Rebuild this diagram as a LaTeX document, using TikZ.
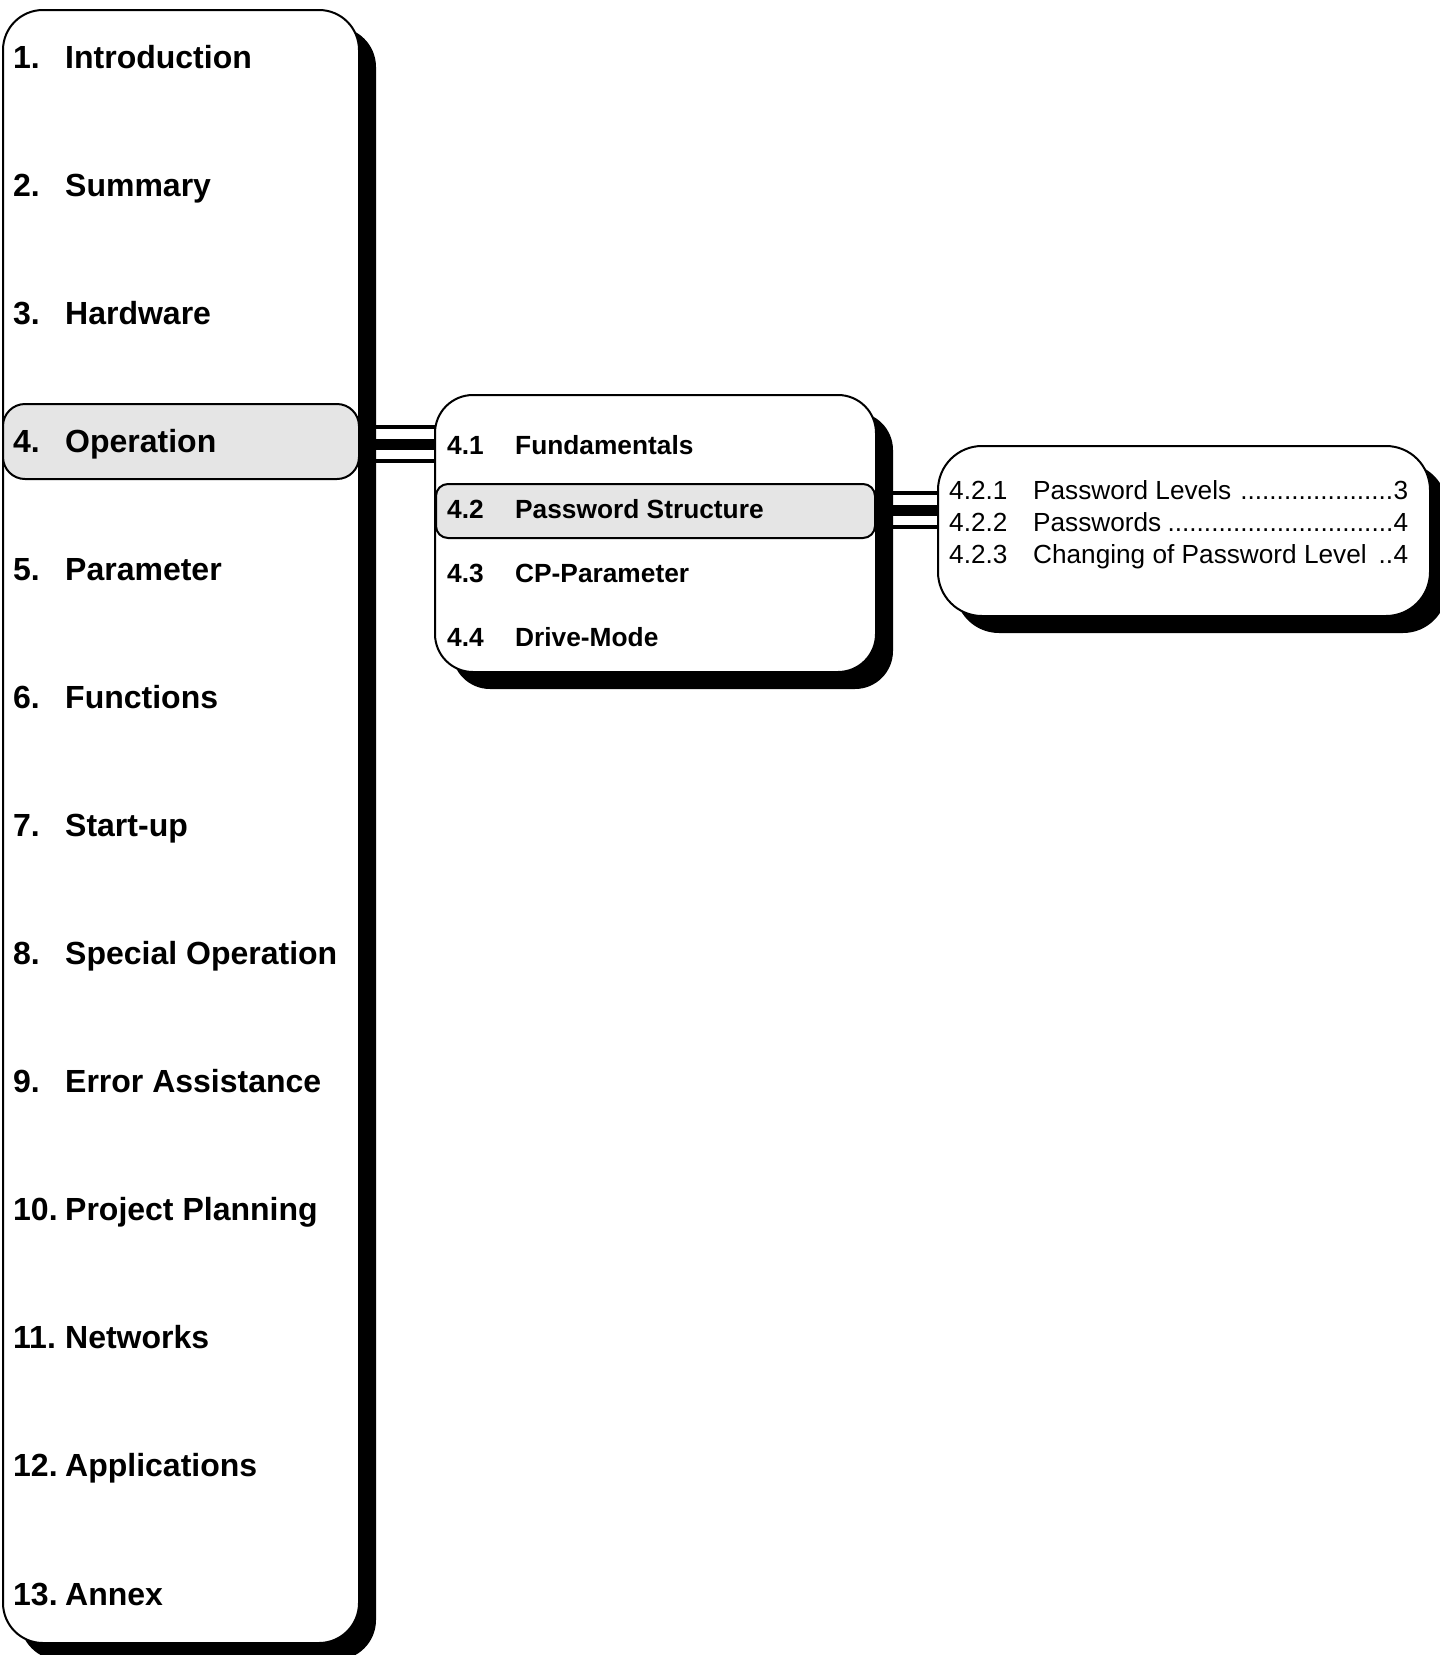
\documentclass[tikz,border=0pt]{standalone}
\usepackage{fontspec}
\setmainfont{Liberation Sans}
\usetikzlibrary{shadows,backgrounds}
\begin{document}
\begin{tikzpicture}[x=1pt,y=-1pt,
  panel/.style={draw=black, line width=2pt, fill=white, inner sep=0pt, outer sep=0pt,
    drop shadow={shadow xshift=17pt, shadow yshift=-17pt, fill=black, opacity=1}},
  hilite/.style={draw=black, line width=2pt, fill=gray!20, inner sep=0pt, outer sep=0pt},
  mainitem/.style={anchor=base west, inner sep=0pt, font=\fontsize{32}{36}\selectfont\bfseries},
  subitem/.style={anchor=base west, inner sep=0pt, font=\fontsize{26.3}{32}\selectfont\bfseries},
  tocitem/.style={anchor=base west, inner sep=0pt, font=\fontsize{26.2}{30}\selectfont},
  connouter/.style={draw=black, line width=38pt, postaction={draw=white, line width=30pt}},
  conncore/.style={draw=black, line width=11pt}]
\useasboundingbox (0,0) rectangle (1440,1655);
\clip (0,0) rectangle (1440,1655);

% main box
\node[panel, rounded corners=40pt, minimum width=356pt, minimum height=1633pt, anchor=north west] (main) at (3,10) {};
\node[hilite, rounded corners=22pt, minimum width=356pt, minimum height=75pt, anchor=north west] (ophl) at (3,404) {};

\node[mainitem] (m1)  at (13,68)      {\makebox[52pt][l]{1.}Introduction};
\node[mainitem] (m2)  at (13,196.08)  {\makebox[52pt][l]{2.}Summary};
\node[mainitem] (m3)  at (13,324.16)  {\makebox[52pt][l]{3.}Hardware};
\node[mainitem] (m4)  at (13,452.24)  {\makebox[52pt][l]{4.}Operation};
\node[mainitem] (m5)  at (13,580.32)  {\makebox[52pt][l]{5.}Parameter};
\node[mainitem] (m6)  at (13,708.40)  {\makebox[52pt][l]{6.}Functions};
\node[mainitem] (m7)  at (13,836.48)  {\makebox[52pt][l]{7.}Start-up};
\node[mainitem] (m8)  at (13,964.56)  {\makebox[52pt][l]{8.}Special Operation};
\node[mainitem] (m9)  at (13,1092.64) {\makebox[52pt][l]{9.}Error Assistance};
\node[mainitem] (m10) at (13,1220.72) {\makebox[52pt][l]{10.}Project Planning};
\node[mainitem] (m11) at (13,1348.80) {\makebox[52pt][l]{11.}Networks};
\node[mainitem] (m12) at (13,1476.88) {\makebox[52pt][l]{12.}Applications};
\node[mainitem] (m13) at (13,1605)    {\makebox[52pt][l]{13.}Annex};

% second box
\node[panel, rounded corners=38pt, minimum width=441pt, minimum height=277pt, anchor=north west] (sub) at (435,395) {};
\node[hilite, rounded corners=12pt, minimum width=439pt, minimum height=54pt, anchor=north west] (pshl) at (436,484) {};

\node[subitem] (s1) at (447,454) {\makebox[68pt][l]{4.1}Fundamentals};
\node[subitem] (s2) at (447,518) {\makebox[68pt][l]{4.2}Password Structure};
\node[subitem] (s3) at (447,582.5) {\makebox[68pt][l]{4.3}CP-Parameter};
\node[subitem] (s4) at (447,646) {\makebox[68pt][l]{4.4}Drive-Mode};

% third box
\node[panel, rounded corners=44pt, minimum width=492pt, minimum height=170pt, anchor=north west] (toc) at (938,446) {};

\node[tocitem] (t1) at (949,499) {\makebox[459pt][l]{\makebox[84pt][l]{4.2.1}Password Levels \leaders\hbox{.}\hfill 3}};
\node[tocitem] (t2) at (949,531) {\makebox[459pt][l]{\makebox[84pt][l]{4.2.2}Passwords\leaders\hbox{.}\hfill 4}};
\node[tocitem] (t3) at (949,563) {\makebox[459pt][l]{\makebox[84pt][l]{4.2.3}Changing of Password Level \leaders\hbox{.}\hfill 4}};

% connectors
\coordinate (c1) at (0,444);
\coordinate (c2) at (0,510);
\begin{scope}[on background layer]
\draw[connouter] (main.east |- c1) -- (sub.west |- c1);
\draw[conncore]  (main.east |- c1) -- (sub.west |- c1);
\draw[connouter] (sub.east |- c2) -- (toc.west |- c2);
\draw[conncore]  (sub.east |- c2) -- (toc.west |- c2);
\end{scope}
\end{tikzpicture}
\end{document}
